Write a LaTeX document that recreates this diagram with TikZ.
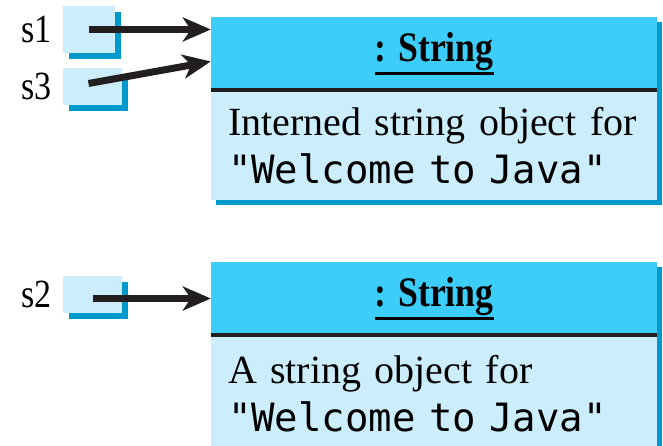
\documentclass[tikz,border=0pt]{standalone}
\usepackage{fontspec}
\setmainfont{Liberation Serif}
\newfontfamily\condserif[FakeStretch=0.85]{Liberation Serif}
\newfontfamily\codefont{DejaVu Sans Mono}
\usetikzlibrary{positioning,arrows.meta,shadows}

\definecolor{headblue}{RGB}{60,205,250}
\definecolor{bodyblue}{RGB}{204,238,252}
\definecolor{shadeblue}{RGB}{0,153,204}
\definecolor{inkblack}{RGB}{35,31,32}

\newcommand\objname[1]{\setbox0\hbox{#1}\leavevmode\rlap{\rule[-14pt]{\wd0}{3pt}}\box0}

\begin{document}
\begin{tikzpicture}[x=1pt, y=-1pt,
    objshadow/.style={drop shadow={shadow xshift=5pt, shadow yshift=-5pt, fill=shadeblue, opacity=1}},
    objhead/.style={rectangle, fill=headblue, minimum width=446pt, minimum height=73pt, inner sep=0pt, font=\condserif\fontsize{42}{46}\selectfont\bfseries, objshadow},
    objbody/.style={rectangle, fill=bodyblue, minimum width=446pt, minimum height=110pt, text width=412pt, inner xsep=17pt, inner ysep=0pt, align=left, font=\fontsize{40}{48}\selectfont, objshadow},
    refbox/.style={rectangle, fill=bodyblue, inner sep=0pt, drop shadow={shadow xshift=6pt, shadow yshift=-6pt, fill=shadeblue, opacity=1}},
    reflabel/.style={inner sep=0pt, font=\condserif\fontsize{40}{40}\selectfont},
    sepline/.style={draw=inkblack, line width=4pt},
    refarrow/.style={draw=inkblack, line width=7pt, -{Stealth[length=28pt, width=24pt, inset=8pt]}}
]
\clip (0,0) rectangle (663,446);

% interned string object
\node[objhead] (h1) at (434,53.5) {\objname{: String}};
\node[objbody, anchor=north] (b1) at (h1.south) {Interned string object for\\{\codefont\fontsize{39}{48}\selectfont "Welcome to Java"}};
\draw[sepline] (h1.south west) -- (h1.south east);

% new string object
\node[objhead] (h2) at (434,298.5) {\objname{: String}};
\node[objbody, anchor=north, minimum height=116pt] (b2) at (h2.south) {A string object for\\{\codefont\fontsize{39}{48}\selectfont "Welcome to Java"}};
\draw[sepline] (h2.south west) -- (h2.south east);

% reference variables
\node[refbox, minimum width=52pt, minimum height=47pt] (r1) at (89,29.5) {};
\node[refbox, minimum width=59pt, minimum height=37pt] (r3) at (92.5,86.5) {};
\node[refbox, minimum width=59pt, minimum height=37pt] (r2) at (92.5,294.5) {};

\node[reflabel, left=11pt of r1] (s1) {s1};
\node[reflabel, left=11pt of r3] (s3) {s3};
\node[reflabel, left=11pt of r2] (s2) {s2};

\draw[refarrow] (r1.center) -- (r1.center -| h1.west);
\draw[refarrow] ([xshift=-4pt, yshift=3pt]r3.center) -- ([yshift=-8pt]h1.west);
\draw[refarrow] (h2.west -| r2.center) -- (h2.west);

\end{tikzpicture}
\end{document}
